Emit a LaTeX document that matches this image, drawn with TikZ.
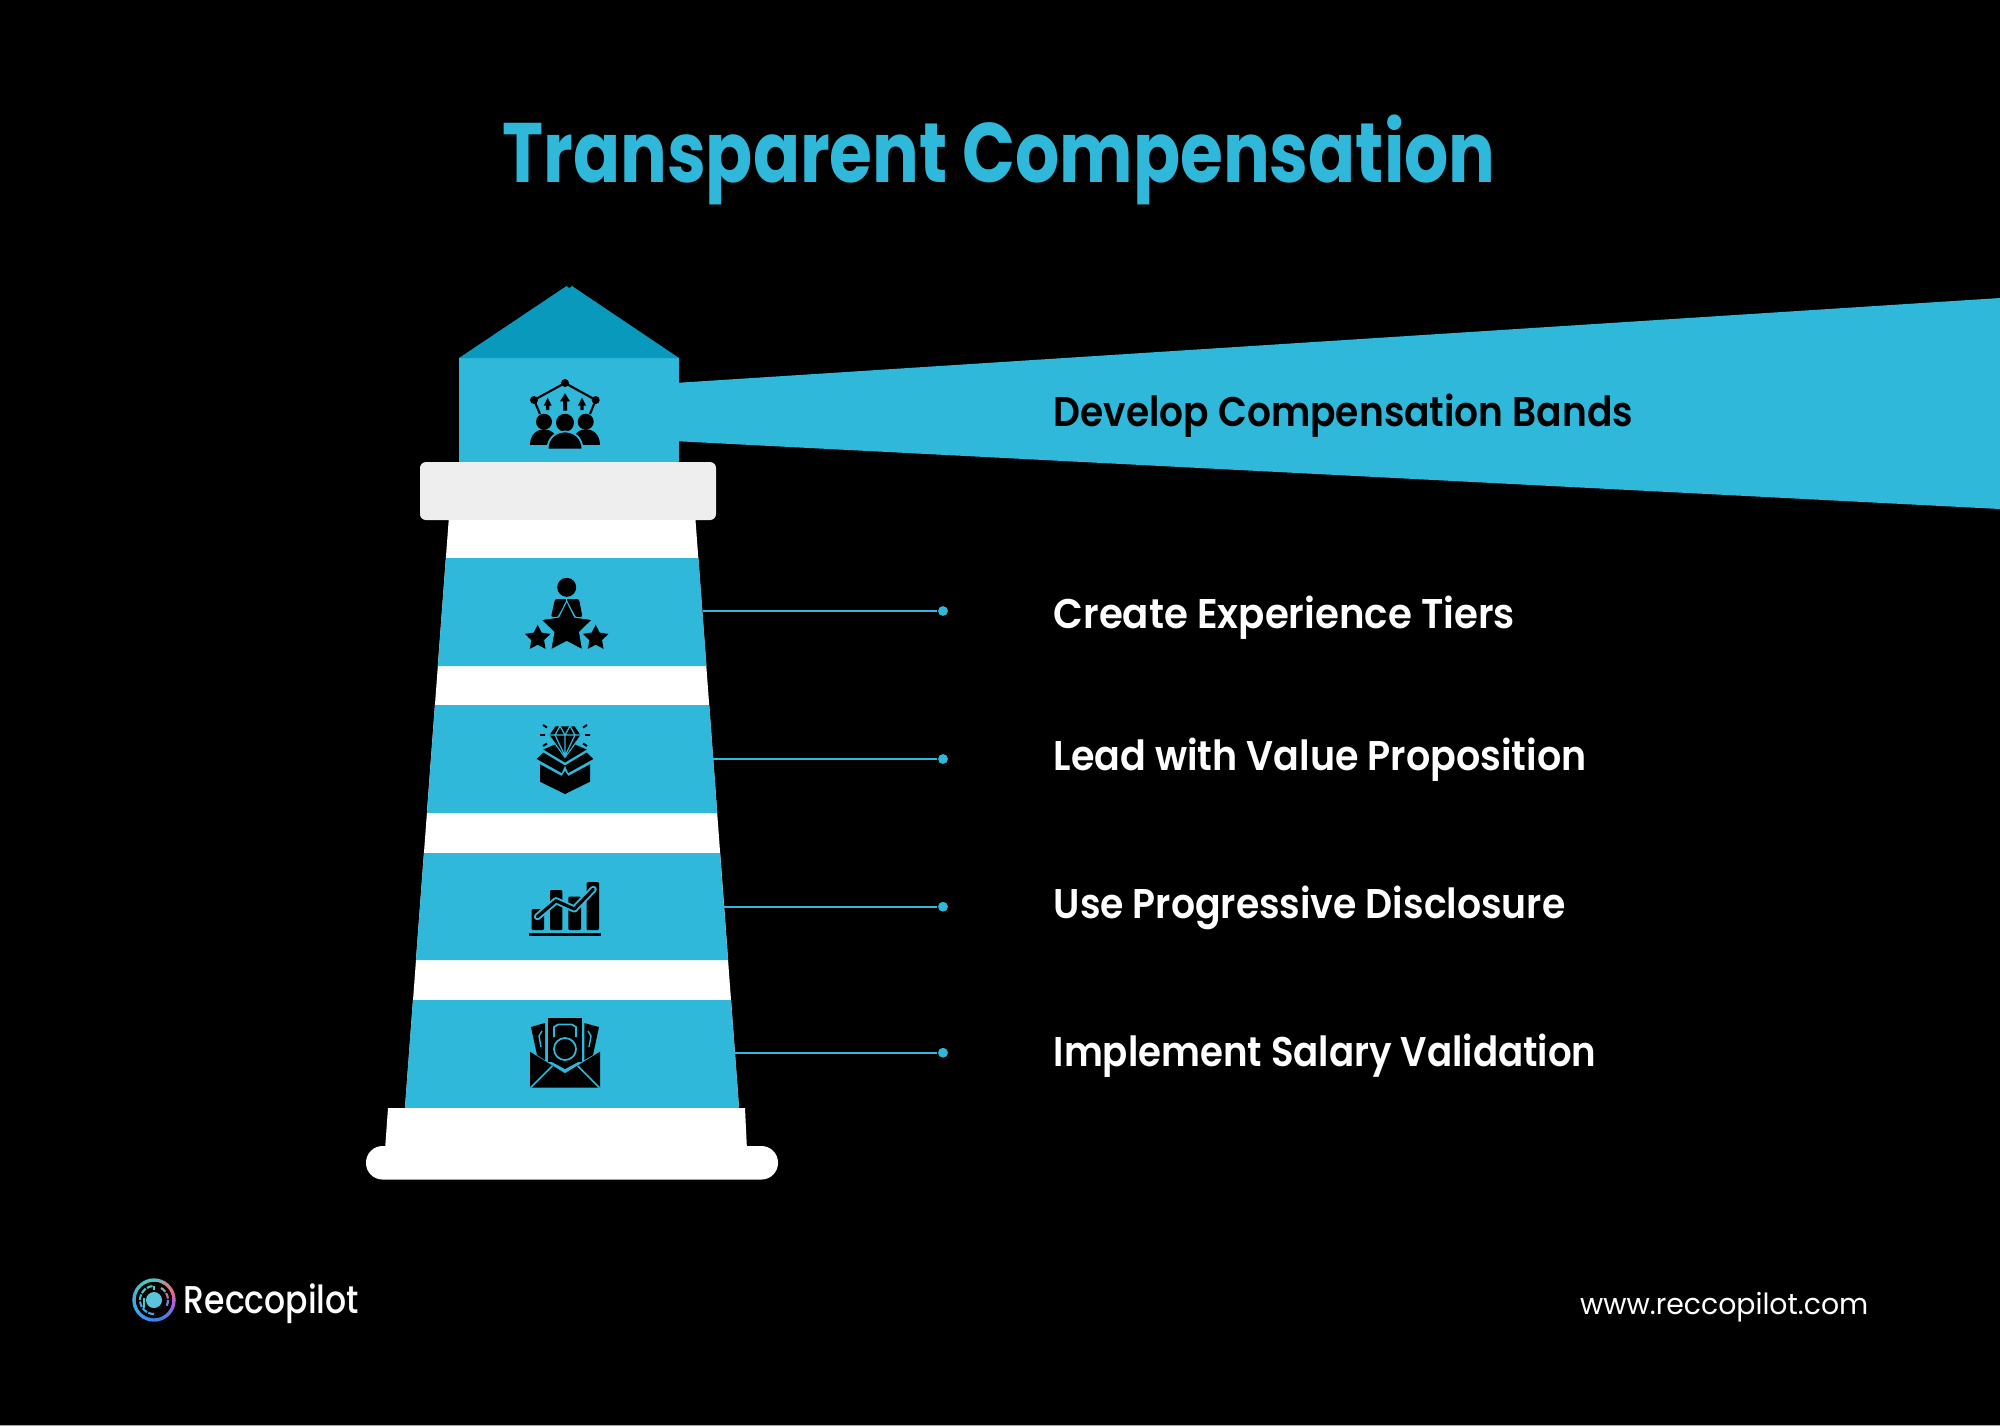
\documentclass[tikz,border=0pt]{standalone}
\usepackage{xcolor}
\usepackage{fontspec}
\setmainfont{Poppins}
\newfontfamily\titlefont[FakeStretch=0.823]{Poppins Bold}
\newfontfamily\labelfont[FakeStretch=0.91]{Poppins SemiBold}
\newfontfamily\brandfont[FakeStretch=0.855]{Poppins Medium}
\newfontfamily\sitefont[FakeStretch=0.97]{Poppins}
\usetikzlibrary{shapes.geometric, calc, positioning}
\definecolor{beamblue}{HTML}{2FB8DA}
\definecolor{roofblue}{HTML}{0899BC}
\definecolor{gallerygrey}{HTML}{EEEEEE}
\definecolor{logoblue}{HTML}{3F7FE8}
\definecolor{logosky}{HTML}{3FA9E8}
\definecolor{logoteal}{HTML}{4CC9C0}
\definecolor{logorose}{HTML}{E8707E}
\definecolor{logoviolet}{HTML}{B060E0}
\definecolor{logodisc}{HTML}{5BC4DC}

\tikzset{
  titletext/.style={inner sep=0pt, text=beamblue, font=\titlefont\fontsize{24}{28}\selectfont},
  itemtext/.style={anchor=base west, inner sep=0pt, font=\labelfont\fontsize{11.8}{14}\selectfont},
  linkline/.style={beamblue, line width=0.5pt},
  dotmark/.style={circle, fill=beamblue, inner sep=0pt, minimum size=2.8pt},
  iconstar/.style={star, star points=5, star point ratio=2.0, fill=black, inner sep=0pt},
  iconcut/.style={beamblue, line width=0.45pt}
}

\begin{document}
\begin{tikzpicture}[x=0.01cm, y=-0.01cm]
  \useasboundingbox (0,0) rectangle (2000,1426);
  \fill[black] (0,0) rectangle (2000,1426);
  \fill[black!35] (0,1425) rectangle (2000,1426);

  \node[titletext] (title) at (999,160) {Transparent Compensation};

  % beam, lantern and roof
  \fill[beamblue] (679,382.7) -- (2000,298) -- (2000,509) -- (679,441.3) -- cycle;
  \fill[beamblue] (459,358) rectangle (679,463);
  \fill[roofblue] (459,358) -- (566.5,286) -- (569.3,288) -- (572,286) -- (679,358) -- cycle;
  \fill[gallerygrey, rounded corners=1.7pt] (420,462) rectangle (716,520);

  % tower
  \fill[white] (448.7,520) -- (695.5,520) -- (739,1108) -- (405,1108) -- cycle;
  \fill[beamblue] (445.9,558) -- (698.3,558) -- (706.5,666) -- (437.9,666) -- cycle;
  \fill[beamblue] (435,705) -- (709.2,705) -- (717.2,813) -- (427,813) -- cycle;
  \fill[beamblue] (424,853) -- (720,853) -- (728,960) -- (416,960) -- cycle;
  \fill[beamblue] (413,1000) -- (731,1000) -- (739,1108) -- (405,1108) -- cycle;
  \fill[white] (388,1108) -- (745,1108) -- (747,1150) -- (385,1150) -- cycle;
  \fill[white, rounded corners=4.7pt] (366,1146) rectangle (778,1179.5);

  % icon: people and network
  \draw[black, line width=0.6pt] (540,414) -- (534,400) -- (565,383) -- (595.7,400) -- (590,414);
  \foreach \px/\py/\pr in {565/383/4, 534/400/4, 595.7/400/4, 544/421.7/8, 585.7/421.7/8, 565/422.7/9}
    \fill[black] (\px,\py) circle[radius=\pr];
  \foreach \ax/\at/\ab/\aw in {547.7/397.7/410/4, 582/397.7/410/4, 565/393.3/410.7/5}
    \fill[black] (\ax,\at) -- ++(\aw,8) -- ++(-\aw*0.6,0) -- (\ax+\aw*0.4,\ab) -- (\ax-\aw*0.4,\ab) -- ++(0,-\ab+\at+8) -- ++(-\aw*0.6,0) -- cycle;
  \fill[black] (530,445) .. controls (530,424) and (558,424) .. (558,445) -- cycle;
  \fill[black] (572,445) .. controls (572,424) and (600,424) .. (600,445) -- cycle;
  \fill[black, draw=beamblue, line width=0.5pt] (547.5,449.5) .. controls (547.5,425.5) and (582.5,425.5) .. (582.5,449.5) -- cycle;
  \fill[beamblue] (540,449.5) rectangle (590,452);

  % icon: person and stars
  \fill[black] (566.7,587.3) circle[radius=9.5];
  \fill[black, rounded corners=0.6pt] (555,599) -- (579,599) -- (582.5,617) -- (551,617) -- cycle;
  \draw[iconcut] (555.5,622) -- (566.7,603) -- (578,622);
  \draw[iconcut] (566.7,598.5) -- (566.7,602);
  \node[iconstar, draw=beamblue, line width=0.3pt, minimum size=15.4pt] (bigstar) at (566.7,628) {};
  \node[iconstar, minimum size=7.6pt] (leftstar) at (537.7,638) {};
  \node[iconstar, minimum size=7.6pt] (rightstar) at (595.7,638) {};

  % icon: gem in a box
  \fill[black] (540,764.3) -- (561.7,776) -- (565,771) -- (568.3,776) -- (590,764.3) -- (590,781.7) -- (565,794) -- (540,781.7) -- cycle;
  \fill[black] (536.7,759) -- (543.3,752.5) -- (565,765.5) -- (561.7,773) -- cycle;
  \fill[black] (593.3,759) -- (586.7,752.5) -- (565,765.5) -- (568.3,773) -- cycle;
  \fill[black] (543.3,749.5) -- (555,744.5) -- (565,757) -- (575,744.5) -- (586.7,749.5) -- (565,762.5) -- cycle;
  \fill[black, draw=beamblue, line width=0.3pt] (555,725.7) -- (575,725.7) -- (581.2,735) -- (565,757.5) -- (548.8,735) -- cycle;
  \draw[iconcut, line width=0.35pt] (549.3,735) -- (580.7,735) (555,735) -- (565,756) -- (575,735) (565,735) -- (565,756)
    (555,735) -- (560,726) -- (565,735) -- (570,726) -- (575,735);
  \draw[black, line width=0.55pt] (543,725) -- (547,727.5) (587,725) -- (583,727.5) (540,735) -- (545,735) (590,735) -- (585,735) (543,746) -- (547,743.5) (587,746) -- (583,743.5);

  % icon: rising chart
  \foreach \bl/\bt/\br in {531.7/909/544, 550/890/562.3, 568.3/896.7/581, 586.7/882/599}
    \fill[black, rounded corners=0.3pt] (\bl,\bt) rectangle (\br,930);
  \fill[black] (529,933.2) rectangle (601,935.5);
  \draw[beamblue, line width=2pt, line cap=round, line join=round] (537.3,916.7) -- (556,900.7) -- (574.3,909) -- (593.3,889.3);
  \draw[black, line width=0.9pt, line cap=round, line join=round] (537.3,916.7) -- (556,900.7) -- (574.3,909) -- (593.3,889.3);

  % icon: envelope with notes
  \fill[black] (531,1027) -- (545,1023) -- (545,1060) -- (537,1055) -- cycle;
  \fill[black] (599,1027) -- (584.3,1023) -- (584.3,1060) -- (593,1055) -- cycle;
  \fill[black] (548.3,1017.7) rectangle (581.7,1062);
  \fill[black] (548.3,1060) -- (581.7,1060) -- (565,1069) -- cycle;
  \fill[black] (530,1051.7) -- (565,1073.3) -- (600,1051.7) -- (600,1087.7) -- (530,1087.7) -- cycle;
  \draw[iconcut] (530.5,1087.7) -- (552.3,1066) (599.5,1087.7) -- (577.7,1066);
  \draw[iconcut, line width=0.5pt] (565,1049) circle[radius=11];
  \draw[iconcut, line width=0.5pt] (554,1037) -- (554,1027) -- (558,1024.5) -- (572,1024.5) -- (576,1027) -- (576,1037);
  \draw[iconcut, line width=0.4pt] (541,1047) -- (539,1036) -- (542,1031) (589,1047) -- (591,1036) -- (588,1031);

  % connectors and labels
  \coordinate (band1) at (702.7,611);
  \coordinate (band2) at (713,759);
  \coordinate (band3) at (724,906.7);
  \coordinate (band4) at (735,1052.7);
  \foreach \n/\y/\x in {1/611/943, 2/759/943, 3/906.7/943, 4/1052.7/943} {
    \node[dotmark] (dot\n) at (\x,\y) {};
    \draw[linkline] (band\n) -- (dot\n);
  }
  \node[itemtext, text=black, xscale=0.995, transform shape] (bands) at (1053,426) {Develop Compensation Bands};
  \node[itemtext, text=white, xscale=1.025, transform shape] (tiers) at (1053,628) {Create Experience Tiers};
  \node[itemtext, text=white, xscale=1.007, transform shape] (value) at (1053,770) {Lead with Value Proposition};
  \node[itemtext, text=white] (disclose) at (1053,918) {Use Progressive Disclosure};
  \node[itemtext, text=white, xscale=0.984, transform shape] (validate) at (1053,1066) {Implement Salary Validation};

  % footer logo
  \coordinate (logo) at (154,1300);
  \foreach \a/\c in {0/logoviolet, 20/logoviolet!60!logoblue, 40/logoviolet!25!logoblue, 60/logoblue, 80/logoblue, 100/logoblue!70!logosky, 120/logoblue!40!logosky, 140/logosky, 160/logosky, 180/logosky!75!logoteal, 200/logosky!50!logoteal, 220/logosky!30!logoteal, 240/logoteal, 260/logoteal, 280/logoteal!60!logorose, 300/logoteal!25!logorose, 320/logorose, 340/logorose!50!logoviolet}
    \draw[\c, line width=0.95pt] ($(logo)+(\a:20)$) arc[start angle=\a, end angle=\a+22, radius=20];
  \foreach \a/\c in {90/logosky, 120/logosky, 150/logosky, 180/logoteal!60!logosky, 210/logoteal, 240/logoteal, 300/logoteal!60!logorose, 330/logorose!60!logoviolet, 0/logoviolet!50!logosky}
    \draw[\c, line width=0.6pt] ($(logo)+(\a:14)$) arc[start angle=\a, end angle=\a+24, radius=14];
  \fill[logodisc] (logo) circle[radius=8];
  \draw[logoteal, line width=0.5pt] ($(logo)+(-10,-2)$) -- ($(logo)+(-10,8)$) (154,1286) -- (154,1290);
  \node[anchor=base west, inner sep=0pt, text=white, font=\brandfont\fontsize{11}{13}\selectfont] (brand) at (183,1313) {Reccopilot};
  \node[anchor=base east, inner sep=0pt, text=white, font=\sitefont\fontsize{8.3}{11}\selectfont] (site) at (1869,1314) {www.reccopilot.com};
\end{tikzpicture}
\end{document}
